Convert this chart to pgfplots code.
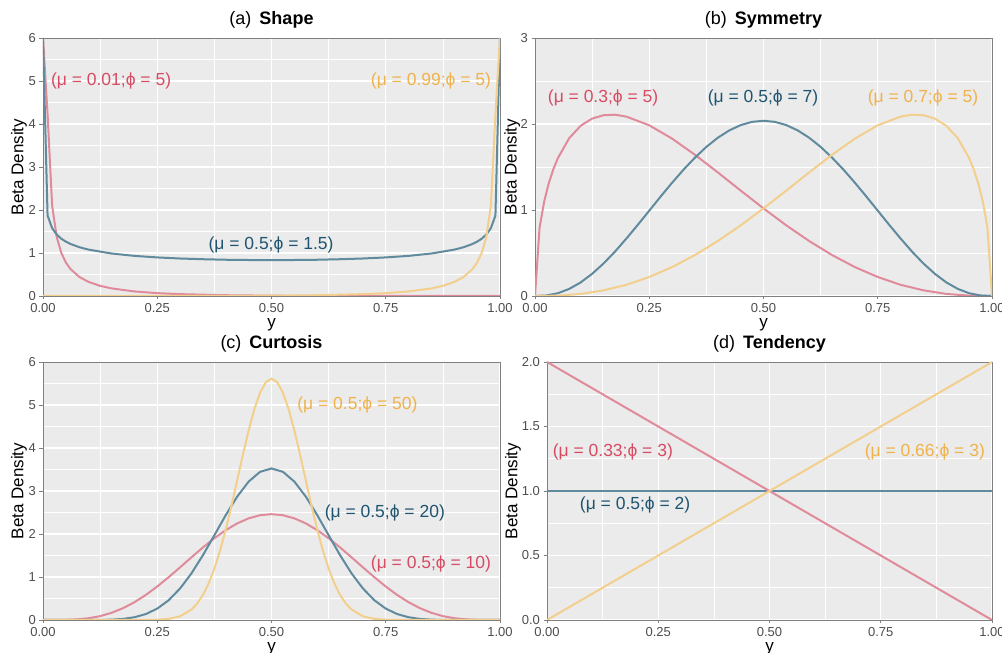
\documentclass[border=0pt]{standalone}
\usepackage{fontspec}
\setmainfont{Liberation Sans}
\usepackage{pgfplots}
\pgfplotsset{compat=1.18}
\usepackage{xcolor}

\definecolor{bgg}{RGB}{235,235,235}
\definecolor{frame}{RGB}{128,128,128}
\definecolor{tickt}{RGB}{77,77,77}
\definecolor{cRed}{RGB}{224,139,155}
\definecolor{cBlue}{RGB}{96,138,158}
\definecolor{cYel}{RGB}{243,207,142}
\definecolor{lRed}{RGB}{215,75,99}
\definecolor{lBlue}{RGB}{31,84,112}
\definecolor{lYel}{RGB}{240,178,74}

\tikzset{lab/.style={font=\fontsize{17.5}{19}\selectfont}}
\pgfplotsset{
  panel/.style={
    scale only axis, width=457pt, height=258pt,
    xmin=0, xmax=1, ymin=0,
    axis background/.style={fill=bgg},
    grid=both,
    major grid style={white, line width=1.1pt},
    minor grid style={white, line width=0.5pt},
    minor x tick num=1, minor y tick num=1,
    axis line style={draw=frame, line width=0.8pt},
    tick style={draw=frame, line width=0.8pt},
    major tick length=3.5pt, minor tick length=0pt,
    tick align=outside, tick pos=left,
    /pgf/number format/assume math mode=true,
    xtick={0,0.25,0.5,0.75,1},
    xticklabels={0.00,0.25,0.50,0.75,1.00},
    ticklabel style={font=\fontsize{13}{14}\selectfont, text=tickt},
    xlabel={y}, ylabel={Beta Density},
    label style={font=\fontsize{17}{18}\selectfont},
    xlabel style={at={(axis description cs:0.5,-0.11)}, anchor=center},
    title style={font=\fontsize{18}{20}\selectfont, at={(axis description cs:0.5,1)}, anchor=south},
    every axis plot/.append style={line width=2pt, no marks},
  },
}

\begin{document}
\begin{tikzpicture}[x=1pt,y=1pt]
\path[use as bounding box] (0,0) rectangle (1002,653);

% (a) Shape
\begin{axis}[panel, at={(43pt,357pt)}, anchor=south west,
  ymax=6, ytick={0,1,2,3,4,5,6},
  ylabel style={at={(axis description cs:-0.0525,0.5)}, anchor=center},
  title={(a)\hspace{8pt}\textbf{Shape}}]
\addplot[cRed] coordinates {(0,6) (0.01,4.23) (0.02,2.10) (0.03,1.373) (0.04,1.003) (0.05,0.779) (0.06,0.628) (0.08,0.439) (0.10,0.326) (0.125,0.236) (0.15,0.177) (0.2,0.106) (0.25,0.066) (0.3,0.043) (0.4,0.018) (0.5,0.007) (0.6,0.002) (0.7,0.001) (0.8,0) (1,0)};
\addplot[cBlue] coordinates {(0,6) (0.01,1.871) (0.02,1.577) (0.03,1.429) (0.04,1.333) (0.05,1.264) (0.06,1.211) (0.08,1.133) (0.1,1.078) (0.15,0.988) (0.2,0.933) (0.25,0.897) (0.3,0.872) (0.35,0.855) (0.4,0.843) (0.45,0.837) (0.5,0.835) (0.55,0.837) (0.6,0.843) (0.65,0.855) (0.7,0.872) (0.75,0.897) (0.8,0.933) (0.85,0.988) (0.9,1.078) (0.92,1.133) (0.94,1.211) (0.95,1.264) (0.96,1.333) (0.97,1.429) (0.98,1.577) (0.99,1.871) (1,6)};
\addplot[cYel] coordinates {(0,0) (0.2,0) (0.3,0.001) (0.4,0.002) (0.5,0.007) (0.6,0.018) (0.7,0.043) (0.75,0.066) (0.8,0.106) (0.85,0.177) (0.875,0.236) (0.9,0.326) (0.92,0.439) (0.94,0.628) (0.95,0.779) (0.96,1.003) (0.97,1.373) (0.98,2.10) (0.99,4.23) (1,6)};
\node[lab, text=lRed] at (axis cs:0.149,5) {(μ = 0.01;ϕ = 5)};
\node[lab, text=lYel] at (axis cs:0.849,5) {(μ = 0.99;ϕ = 5)};
\node[lab, text=lBlue] at (axis cs:0.499,1.19) {(μ = 0.5;ϕ = 1.5)};
\end{axis}

% (b) Symmetry
\begin{axis}[panel, at={(535pt,357pt)}, anchor=south west,
  ymax=3, ytick={0,1,2,3},
  ylabel style={at={(axis description cs:-0.050,0.5)}, anchor=center},
  title={(b)\hspace{8pt}\textbf{Symmetry}}]
\addplot[cRed] coordinates {(0,0) (0.01,0.795) (0.02,1.096) (0.03,1.308) (0.04,1.472) (0.05,1.603) (0.075,1.836) (0.1,1.980) (0.125,2.063) (0.15,2.102) (0.175,2.108) (0.2,2.086) (0.25,1.985) (0.3,1.830) (0.35,1.642) (0.4,1.437) (0.45,1.226) (0.5,1.019) (0.55,0.821) (0.6,0.639) (0.65,0.476) (0.7,0.336) (0.75,0.221) (0.8,0.130) (0.85,0.066) (0.9,0.024) (0.95,0.004) (1,0)};
\addplot[cBlue] coordinates {(0,0) (0.025,0.006) (0.05,0.032) (0.075,0.083) (0.1,0.158) (0.125,0.258) (0.15,0.378) (0.175,0.516) (0.2,0.668) (0.225,0.828) (0.25,0.992) (0.275,1.157) (0.3,1.317) (0.325,1.469) (0.35,1.609) (0.375,1.734) (0.4,1.840) (0.425,1.925) (0.45,1.987) (0.475,2.025) (0.5,2.037) (0.525,2.025) (0.55,1.987) (0.575,1.925) (0.6,1.840) (0.625,1.734) (0.65,1.609) (0.675,1.469) (0.7,1.317) (0.725,1.157) (0.75,0.992) (0.775,0.828) (0.8,0.668) (0.825,0.516) (0.85,0.378) (0.875,0.258) (0.9,0.158) (0.925,0.083) (0.95,0.032) (0.975,0.006) (1,0)};
\addplot[cYel] coordinates {(0,0) (0.05,0.004) (0.1,0.024) (0.15,0.066) (0.2,0.130) (0.25,0.221) (0.3,0.336) (0.35,0.476) (0.4,0.639) (0.45,0.821) (0.5,1.019) (0.55,1.226) (0.6,1.437) (0.65,1.642) (0.7,1.830) (0.75,1.985) (0.8,2.086) (0.825,2.108) (0.85,2.102) (0.875,2.063) (0.9,1.980) (0.925,1.836) (0.95,1.603) (0.96,1.472) (0.97,1.308) (0.98,1.096) (0.99,0.795) (1,0)};
\node[lab, text=lRed] at (axis cs:0.149,2.30) {(μ = 0.3;ϕ = 5)};
\node[lab, text=lBlue] at (axis cs:0.499,2.30) {(μ = 0.5;ϕ = 7)};
\node[lab, text=lYel] at (axis cs:0.849,2.30) {(μ = 0.7;ϕ = 5)};
\end{axis}

% (c) Curtosis
\begin{axis}[panel, at={(43pt,33pt)}, anchor=south west,
  ymax=6, ytick={0,1,2,3,4,5,6},
  ylabel style={at={(axis description cs:-0.0525,0.5)}, anchor=center},
  title={(c)\hspace{8pt}\textbf{Curtosis}}]
\addplot[cRed] coordinates {(0,0) (0.025,0.0002) (0.05,0.003) (0.075,0.015) (0.1,0.041) (0.125,0.090) (0.15,0.167) (0.175,0.274) (0.2,0.413) (0.225,0.583) (0.25,0.779) (0.275,0.996) (0.3,1.225) (0.325,1.459) (0.35,1.688) (0.375,1.901) (0.4,2.090) (0.425,2.247) (0.45,2.364) (0.475,2.437) (0.5,2.461) (0.525,2.437) (0.55,2.364) (0.575,2.247) (0.6,2.090) (0.625,1.901) (0.65,1.688) (0.675,1.459) (0.7,1.225) (0.725,0.996) (0.75,0.779) (0.775,0.583) (0.8,0.413) (0.825,0.274) (0.85,0.167) (0.875,0.090) (0.9,0.041) (0.925,0.015) (0.95,0.003) (0.975,0.0002) (1,0)};
\addplot[cBlue] coordinates {(0,0) (0.1,0) (0.125,0.002) (0.15,0.008) (0.175,0.025) (0.2,0.064) (0.225,0.138) (0.25,0.265) (0.275,0.460) (0.3,0.734) (0.325,1.087) (0.35,1.508) (0.375,1.971) (0.4,2.441) (0.425,2.871) (0.45,3.219) (0.475,3.446) (0.5,3.524) (0.525,3.446) (0.55,3.219) (0.575,2.871) (0.6,2.441) (0.625,1.971) (0.65,1.508) (0.675,1.087) (0.7,0.734) (0.725,0.460) (0.75,0.265) (0.775,0.138) (0.8,0.064) (0.825,0.025) (0.85,0.008) (0.875,0.002) (0.9,0) (1,0)};
\addplot[cYel] coordinates {(0,0) (0.2,0) (0.225,0.001) (0.25,0.006) (0.275,0.025) (0.3,0.086) (0.325,0.244) (0.3375,0.385) (0.35,0.584) (0.3625,0.851) (0.375,1.193) (0.3875,1.614) (0.4,2.108) (0.4125,2.661) (0.425,3.251) (0.4375,3.847) (0.45,4.411) (0.4625,4.903) (0.475,5.287) (0.4875,5.530) (0.5,5.614) (0.5125,5.530) (0.525,5.287) (0.5375,4.903) (0.55,4.411) (0.5625,3.847) (0.575,3.251) (0.5875,2.661) (0.6,2.108) (0.6125,1.614) (0.625,1.193) (0.6375,0.851) (0.65,0.584) (0.6625,0.385) (0.675,0.244) (0.7,0.086) (0.725,0.025) (0.75,0.006) (0.775,0.001) (0.8,0) (1,0)};
\node[lab, text=lYel] at (axis cs:0.688,5.0) {(μ = 0.5;ϕ = 50)};
\node[lab, text=lBlue] at (axis cs:0.748,2.50) {(μ = 0.5;ϕ = 20)};
\node[lab, text=lRed] at (axis cs:0.849,1.30) {(μ = 0.5;ϕ = 10)};
\end{axis}

% (d) Tendency
\begin{axis}[panel, at={(547pt,33pt)}, anchor=south west, width=445pt,
  ymax=2, ytick={0,0.5,1,1.5,2}, yticklabels={0.0,0.5,1.0,1.5,2.0},
  ylabel style={at={(axis description cs:-0.0764,0.5)}, anchor=center},
  title={(d)\hspace{8pt}\textbf{Tendency}}]
\addplot[cBlue] coordinates {(0,1) (0.5,1) (1,1)};
\addplot[cRed] coordinates {(0,2) (0.5,1) (1,0)};
\addplot[cYel] coordinates {(0,0) (0.5,1) (1,2)};
\node[lab, text=lRed] at (axis cs:0.148,1.305) {(μ = 0.33;ϕ = 3)};
\node[lab, text=lYel] at (axis cs:0.849,1.305) {(μ = 0.66;ϕ = 3)};
\node[lab, text=lBlue] at (axis cs:0.198,0.89) {(μ = 0.5;ϕ = 2)};
\end{axis}
\end{tikzpicture}
\end{document}
